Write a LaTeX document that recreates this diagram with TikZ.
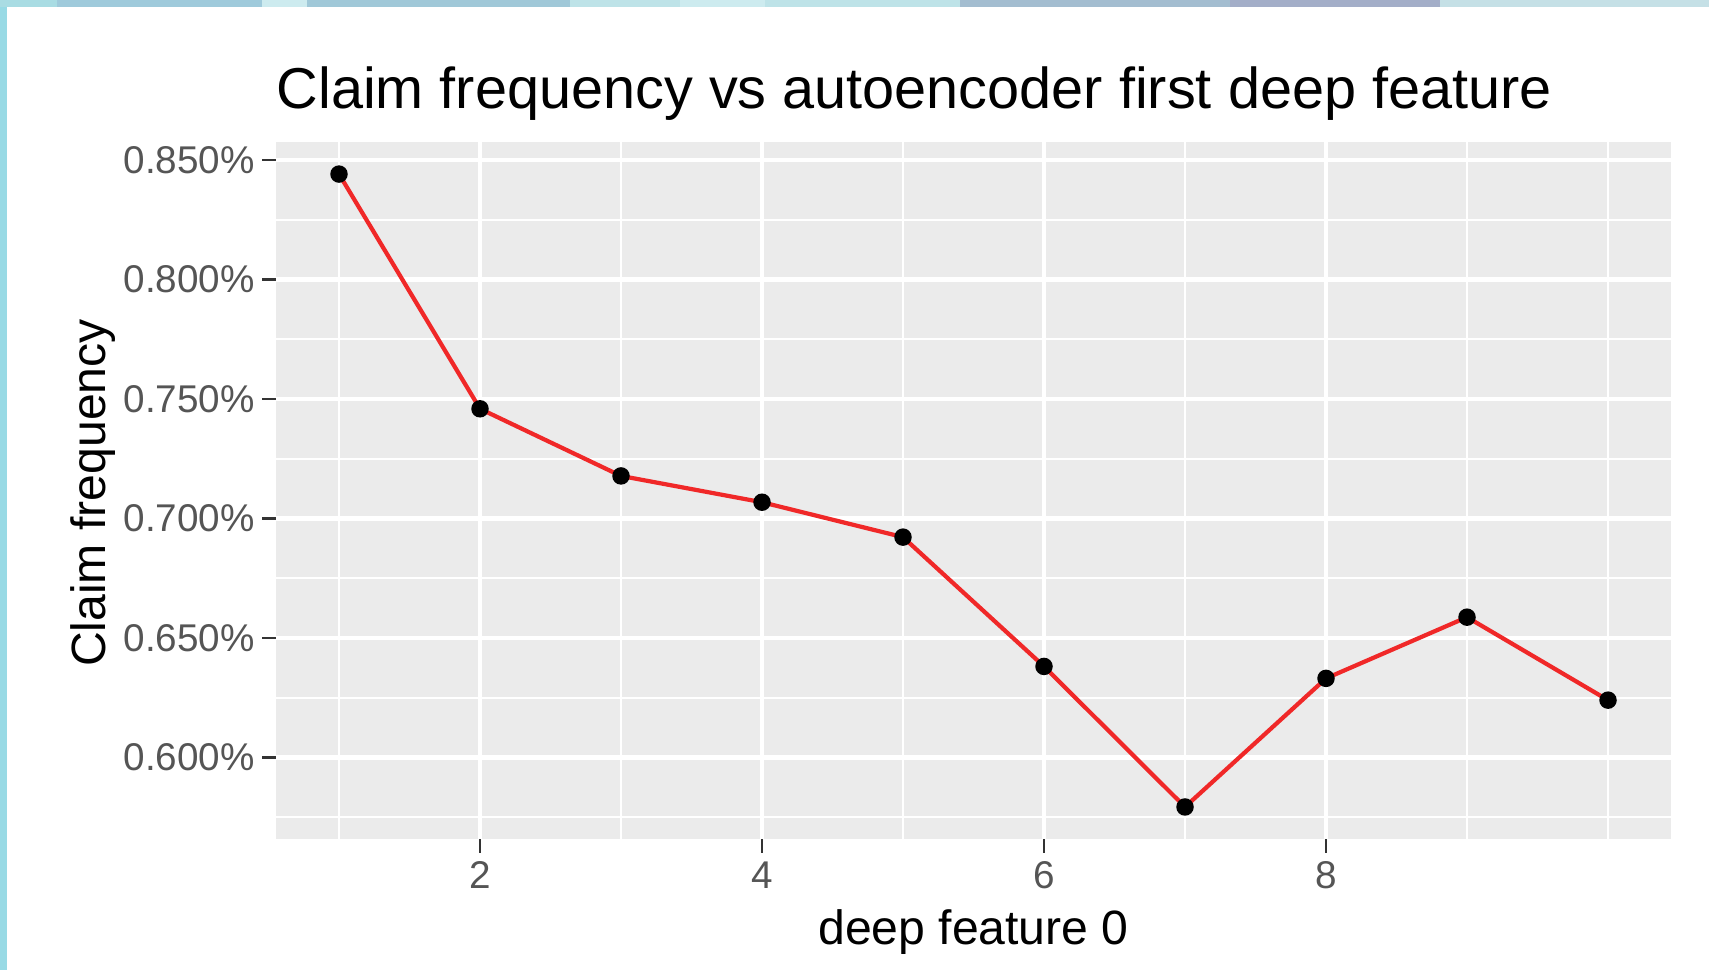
\documentclass[tikz,border=0pt]{standalone}
\usepackage{fontspec}
\setmainfont{Liberation Sans}
\usepackage{xcolor}
\usepackage{tikz}
\usetikzlibrary{positioning,calc}
\definecolor{panelgrey}{HTML}{EBEBEB}
\definecolor{ticktext}{HTML}{555555}
\definecolor{tickline}{HTML}{333333}
\definecolor{linered}{HTML}{F02828}
\definecolor{edgecyan}{HTML}{98DAE5}
\definecolor{stripA}{HTML}{A9DCE3}
\definecolor{stripB}{HTML}{9FCADB}
\definecolor{stripC}{HTML}{CDEBEF}
\definecolor{stripD}{HTML}{A0C8D8}
\definecolor{stripE}{HTML}{BEE3E8}
\definecolor{stripF}{HTML}{A3BDD0}
\definecolor{stripG}{HTML}{A3AEC8}
\definecolor{stripH}{HTML}{C5E0E6}
\tikzset{
  majorgrid/.style={draw=white,line width=1.2pt},
  minorgrid/.style={draw=white,line width=.6pt},
  tickmark/.style={draw=tickline,line width=.8pt},
  ticklabel/.style={text=ticktext,font=\fontsize{11}{13}\selectfont,inner sep=0pt},
  axistitle/.style={text=black,font=\fontsize{13.7}{16}\selectfont,inner sep=0pt},
  dataline/.style={draw=linered,line width=1.2pt,line join=round},
  dot/.style={circle,fill=black,inner sep=0pt,minimum size=1.75mm}
}

\begin{document}
\begin{tikzpicture}
\useasboundingbox (0,0) rectangle (17.09,9.70);
\fill[white] (0,0) rectangle (17.09,9.70);
% slide frame
\fill[edgecyan] (0,0) rectangle (0.07,9.70);
\foreach \a/\b/\c in {0/0.57/stripA,0.57/2.62/stripB,2.62/3.07/stripC,3.07/5.70/stripD,
  5.70/6.80/stripE,6.80/7.65/stripC,7.65/9.60/stripE,9.60/12.30/stripF,
  12.30/14.40/stripG,14.40/17.09/stripH}
  \fill[\c] (\a,9.63) rectangle (\b,9.70);

\begin{scope}[shift={(1.98,-12.215)},x=1.41cm,y=23.9cm]
% panel
\coordinate (ll) at (0.55,0.5657);
\coordinate (ur) at (10.45,0.8574);
\fill[panelgrey] (ll) rectangle (ur);
\foreach \v in {0.575,0.625,0.675,0.725,0.775,0.825}
  \draw[minorgrid] (0.55,\v) -- (10.45,\v);
\foreach \u in {1,3,5,7,9,10}
  \draw[minorgrid] (\u,0.5657) -- (\u,0.8574);
\foreach \v in {0.600,0.650,0.700,0.750,0.800,0.850}
  \draw[majorgrid] (0.55,\v) -- (10.45,\v);
\foreach \u in {2,4,6,8}
  \draw[majorgrid] (\u,0.5657) -- (\u,0.8574);

% axes
\foreach \v [count=\i] in {0.600,0.650,0.700,0.750,0.800,0.850}{
  \draw[tickmark] (0.55,\v) -- ++(-0.135cm,0);
  \node[ticklabel,anchor=east,xshift=-0.2cm] (ytick\i) at (0.55,\v) {\v\%};
}
\foreach \u in {2,4,6,8}{
  \draw[tickmark] (\u,0.5657) -- ++(0,-0.14cm);
  \node[ticklabel,yshift=-0.36cm] (xtick\u) at (\u,0.5657) {\u};
}

% data
\foreach \u/\v in {1/0.8441,2/0.7459,3/0.7178,4/0.7068,5/0.6922,
  6/0.6381,7/0.5793,8/0.6331,9/0.6587,10/0.6240}
  \coordinate (c\u) at (\u,\v);
\draw[dataline] (c1) \foreach \k in {2,...,10}{ -- (c\k)};
\foreach \k in {1,...,10}
  \node[dot] (p\k) at (c\k) {};
\end{scope}

\node[anchor=base west,inner sep=0pt,font=\fontsize{16.4}{19}\selectfont] (title)
  at (2.76,8.61) {Claim frequency vs autoencoder first deep feature};
\node[axistitle,anchor=base] (xlab) at (9.735,0.25) {deep feature 0};
\node[axistitle,rotate=90,anchor=base] (ylab) at (1.05,4.77) {Claim frequency};
\end{tikzpicture}
\end{document}
